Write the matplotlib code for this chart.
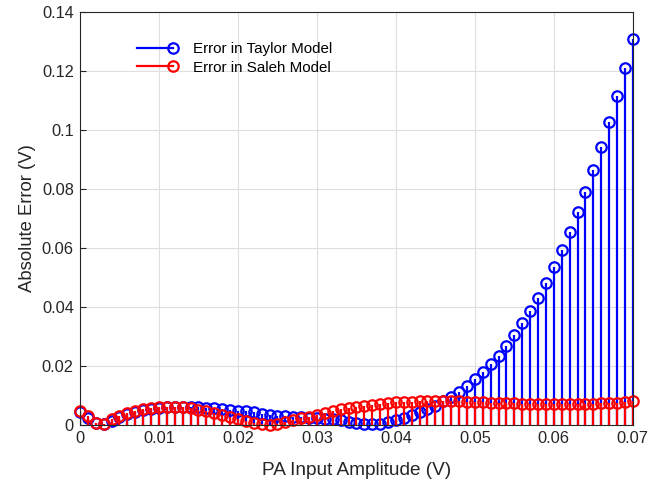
import numpy as np
import matplotlib.pyplot as plt
from matplotlib.lines import Line2D
from matplotlib.legend_handler import HandlerLine2D

plt.rcParams['font.family'] = ['Liberation Sans', 'DejaVu Sans']

# PA input amplitude (V), 0 to 0.07 in 0.001 steps
amp = np.arange(71) * 0.001

taylor_err = [
    0.0045, 0.0025, 0.0008, 0.0005, 0.0015, 0.0027, 0.0037, 0.0045, 0.0051, 0.0055,
    0.0058, 0.0060, 0.0061, 0.0061, 0.0061, 0.0060, 0.0059, 0.0057, 0.0055, 0.0052,
    0.0049, 0.0046, 0.0043, 0.0039, 0.0035, 0.0032, 0.0029, 0.0028, 0.0026, 0.0025,
    0.0024, 0.0021, 0.0019, 0.0016, 0.0011, 0.0007, 0.0003, 0.0002, 0.0004, 0.0009,
    0.0017, 0.0025, 0.0035, 0.0045, 0.0055, 0.0066, 0.0080, 0.0096, 0.0113, 0.0132,
    0.0155, 0.0179, 0.0206, 0.0234, 0.0268, 0.0305, 0.0345, 0.0386, 0.0432, 0.0480,
    0.0535, 0.0593, 0.0655, 0.0721, 0.0791, 0.0864, 0.0943, 0.1028, 0.1116, 0.1211,
    0.1310,
]

saleh_err = [
    0.0049, 0.0031, 0.0006, 0.0004, 0.0019, 0.0030, 0.0042, 0.0049, 0.0054, 0.0059,
    0.0061, 0.0062, 0.0062, 0.0061, 0.0056, 0.0051, 0.0047, 0.0042, 0.0034, 0.0026,
    0.0019, 0.0014, 0.0008, 0.0003, 0.0000, 0.0002, 0.0009, 0.0017, 0.0024, 0.0028,
    0.0035, 0.0042, 0.0047, 0.0053, 0.0058, 0.0062, 0.0066, 0.0069, 0.0072, 0.0075,
    0.0077, 0.0078, 0.0079, 0.0080, 0.0080, 0.0081, 0.0080, 0.0080, 0.0080, 0.0079,
    0.0078, 0.0077, 0.0076, 0.0075, 0.0074, 0.0073, 0.0072, 0.0072, 0.0072, 0.0071,
    0.0071, 0.0071, 0.0070, 0.0071, 0.0071, 0.0072, 0.0073, 0.0074, 0.0076, 0.0078,
    0.0082,
]


class EndMarker(HandlerLine2D):
    # matlab style stem legend: line with the circle at the right end only
    def create_artists(self, legend, orig_handle, xdescent, ydescent, width, height, fontsize, trans):
        arts = super().create_artists(legend, orig_handle, xdescent, ydescent, width, height, fontsize, trans)
        for a in arts:
            a.set_markevery([len(a.get_xdata()) - 1])
        return arts


fig = plt.figure(figsize=(6.64, 4.79), dpi=100)
ax = fig.add_axes([0.1205, 0.1127, 0.8325, 0.8623])

for vals, col in [(taylor_err, 'blue'), (saleh_err, 'red')]:
    ml, sl, bl = ax.stem(amp, vals, linefmt='-', markerfmt='o', basefmt=' ')
    plt.setp(sl, color=col, linewidth=1.6)
    plt.setp(ml, color=col, markerfacecolor='none', markersize=7.5, markeredgewidth=1.6,
             clip_on=False)

ax.set_xlim(0, 0.07)
ax.set_ylim(0, 0.14)
ax.set_xticks(np.arange(0, 0.071, 0.01))
ax.set_yticks(np.arange(0, 0.141, 0.02))
ax.set_xticklabels(['0', '0.01', '0.02', '0.03', '0.04', '0.05', '0.06', '0.07'])
ax.set_yticklabels(['0', '0.02', '0.04', '0.06', '0.08', '0.1', '0.12', '0.14'])
ax.grid(True, color='#dedede', linewidth=0.8)
ax.set_axisbelow(True)
ax.tick_params(direction='in', labelsize=11.8, colors='#262626', length=4, pad=4.5)
for s in ax.spines.values():
    s.set_color('#262626')
    s.set_linewidth(0.8)

ax.set_xlabel('PA Input Amplitude (V)', fontsize=13.7, color='#262626', labelpad=11)
ax.set_ylabel('Absolute Error (V)', fontsize=13.3, color='#262626', labelpad=4)

handles = [
    Line2D([], [], color='blue', lw=1.6, marker='o', mfc='none', ms=7.5, mew=1.6),
    Line2D([], [], color='red', lw=1.6, marker='o', mfc='none', ms=7.5, mew=1.6),
]
ax.legend(handles, ['Error in Taylor Model', 'Error in Saleh Model'],
          handler_map={Line2D: EndMarker(numpoints=2)},
          loc='upper left', bbox_to_anchor=(0.07, 0.96), frameon=False,
          fontsize=10.9, handlelength=3.0, labelspacing=0.3, handletextpad=1.0)

fig.savefig('out.png', dpi=100)
